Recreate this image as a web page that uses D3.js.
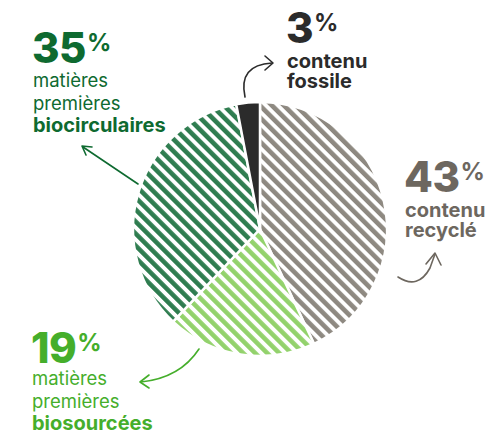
<!DOCTYPE html>
<html>
<head>
<meta charset="utf-8">
<script src="https://cdn.jsdelivr.net/npm/d3@7"></script>
<style>
  body { margin: 0; background: #fff; }
  svg { display: block; font-family: Inter, "Noto Sans", sans-serif; }
</style>
</head>
<body>
<div id="chart"></div>
<script>
// slices, clockwise from 12 o'clock
const keys = ["recycle", "biosource", "biocirc", "fossile"];
const values = [43, 19, 35, 3];
const pctLabels = ["43", "19", "35", "3"];
const labelLines = [
  ["contenu", "recyclé"],
  ["matières", "premières", "biosourcées"],
  ["matières", "premières", "biocirculaires"],
  ["contenu", "fossile"]
];
const boldLine = [[true, true], [false, false, true], [false, false, true], [true, true]];
const stripeColors = ["#8e8981", "#93d26c", "#2f7d50", "#2b2b2b"];
const textColors = ["#6d675f", "#45ae2b", "#0e6a30", "#2b2b2b"];

const width = 502, height = 432;
const cx = 260, cy = 229, radius = 127;

const svg = d3.select("#chart")
  .append("svg")
  .attr("width", width)
  .attr("height", height);

// diagonal stripe patterns
const defs = svg.append("defs");
keys.forEach((k, i) => {
  if (k === "fossile") return;
  const p = defs.append("pattern")
    .attr("id", "stripe-" + k)
    .attr("patternUnits", "userSpaceOnUse")
    .attr("width", 8.5)
    .attr("height", 8.5)
    .attr("patternTransform", "rotate(-45)");
  p.append("rect").attr("width", 8.5).attr("height", 8.5).attr("fill", "#fff");
  p.append("rect").attr("width", 4.6).attr("height", 8.5).attr("fill", stripeColors[i]);
});

const pie = d3.pie().sort(null).value(d => d);
const arc = d3.arc().innerRadius(0).outerRadius(radius);

const g = svg.append("g").attr("transform", `translate(${cx},${cy})`);

g.selectAll("path")
  .data(pie(values))
  .enter()
  .append("path")
  .attr("d", arc)
  .attr("fill", (d, i) => keys[i] === "fossile" ? stripeColors[i] : `url(#stripe-${keys[i]})`)
  .attr("stroke", "#fff")
  .attr("stroke-width", 2.5)
  .attr("stroke-linejoin", "round");

// labels (x, baseline of the big number, first line offset, line height)
const labelPos = [
  { x: 404, y: 192, off: 25, lh: 20 },
  { x: 31, y: 363, off: 22, lh: 22.5 },
  { x: 32, y: 63, off: 24, lh: 22.5 },
  { x: 286, y: 43, off: 25, lh: 20 }
];

keys.forEach((k, i) => {
  const pos = labelPos[i];
  const t = svg.append("g").attr("fill", textColors[i]);
  const big = t.append("text")
    .attr("x", pos.x)
    .attr("y", pos.y)
    .attr("font-size", 42)
    .attr("font-weight", 800)
    .attr("letter-spacing", -0.5)
    .text(pctLabels[i]);
  const bw = big.node().getComputedTextLength();
  t.append("text")
    .attr("x", pos.x + bw + 1)
    .attr("y", pos.y - 12)
    .attr("font-size", 24)
    .attr("font-weight", 700)
    .text("%");
  labelLines[i].forEach((line, j) => {
    t.append("text")
      .attr("x", pos.x + 1)
      .attr("y", pos.y + pos.off + j * pos.lh)
      .attr("font-size", boldLine[i][j] ? 20 : 18.5)
      .attr("font-weight", boldLine[i][j] ? 700 : 400)
      .text(line);
  });
});

// annotation arrows
const arrows = [
  { d: "M398,277 Q418,290 430,268 L435,254", head: [[426, 264], [435, 253], [441, 265]], c: textColors[0] },
  { d: "M199,349 Q180,378 141,382", head: [[149, 375], [140, 382], [149, 388]], c: textColors[1] },
  { d: "M138,184 L83,147", head: [[92, 147], [82, 146], [86, 155]], c: textColors[2] },
  { d: "M245,97 Q238,65 272,63", head: [[265, 56], [273, 63], [265, 70]], c: textColors[3] }
];

arrows.forEach(a => {
  svg.append("path")
    .attr("d", a.d)
    .attr("fill", "none")
    .attr("stroke", a.c)
    .attr("stroke-width", 1.6)
    .attr("stroke-linecap", "round");
  svg.append("path")
    .attr("d", d3.line()(a.head))
    .attr("fill", "none")
    .attr("stroke", a.c)
    .attr("stroke-width", 1.6)
    .attr("stroke-linecap", "round")
    .attr("stroke-linejoin", "round");
});
</script>
</body>
</html>
